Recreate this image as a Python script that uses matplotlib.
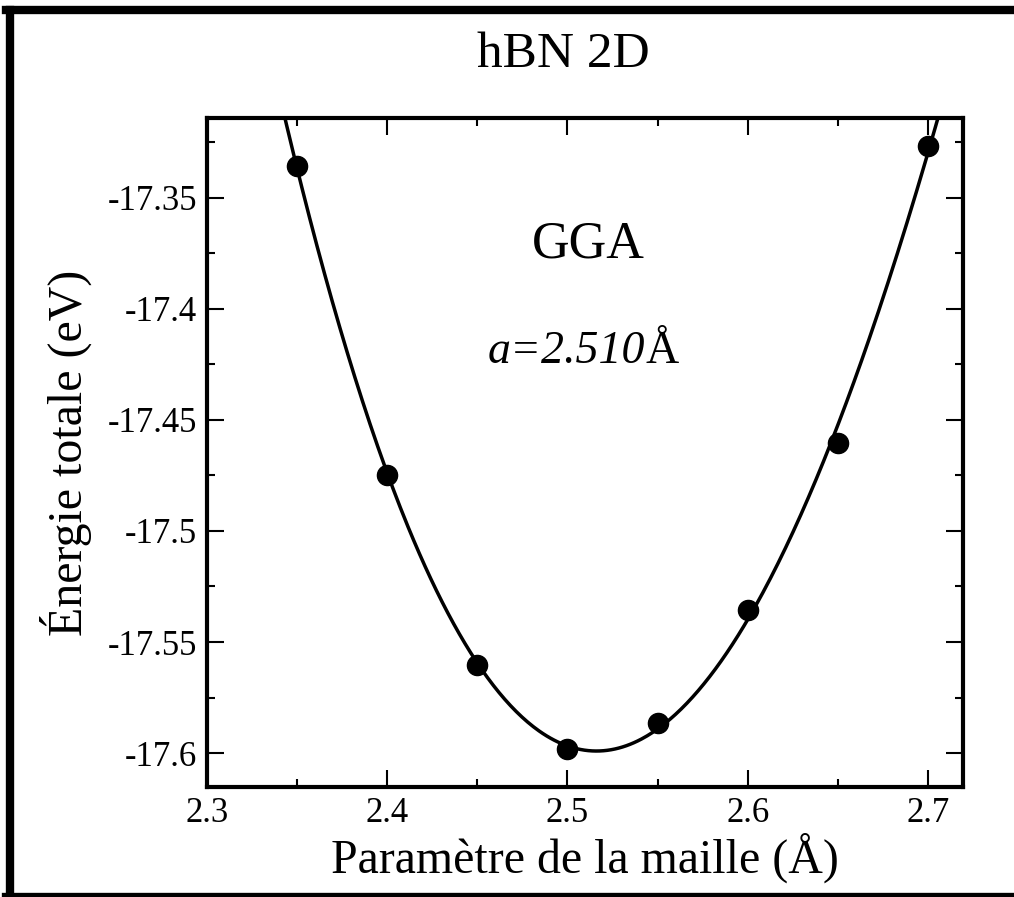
import numpy as np
import matplotlib
matplotlib.use("Agg")
import matplotlib.pyplot as plt
from matplotlib.lines import Line2D
from matplotlib.ticker import MultipleLocator, FuncFormatter

plt.rcParams["font.family"] = ["Liberation Serif", "DejaVu Serif"]
plt.rcParams["axes.unicode_minus"] = False

# Lattice parameter (Å) and total energy (eV)
lattice = [2.35, 2.40, 2.45, 2.50, 2.55, 2.60, 2.65, 2.70]
energy = [-17.3358, -17.4750, -17.5602, -17.5981, -17.5865, -17.5354, -17.4604, -17.3268]

title_text = "hBN 2D"
method_text = "GGA"
xlabel_text = "Paramètre de la maille (Å)"
ylabel_text = "Énergie totale (eV)"

W, H = 1014, 897
fig = plt.figure(figsize=(W / 100, H / 100), dpi=100)
fig.patch.set_facecolor("white")

def fx(px):
    return px / W

def fy(py):
    return 1 - py / H

ax = fig.add_axes([fx(207), fy(787), fx(963) - fx(207), fy(118) - fy(787)])

# Smooth fit through the computed energies
coef = np.polyfit(lattice, energy, 3)
xs = np.linspace(2.30, 2.72, 400)
ax.plot(xs, np.polyval(coef, xs), color="black", lw=2.5, zorder=2)
ax.plot(lattice, energy, "o", color="black", ms=14.5, zorder=3)

ax.set_xlim(2.30, 2.7195)
ax.set_ylim(-17.6153, -17.3140)

ax.xaxis.set_major_locator(MultipleLocator(0.1))
ax.xaxis.set_minor_locator(MultipleLocator(0.05))
ax.yaxis.set_major_locator(MultipleLocator(0.05))
ax.yaxis.set_minor_locator(MultipleLocator(0.025))

def fmt(v, pos):
    s = f"{v:.2f}".rstrip("0").rstrip(".")
    return s.replace("\u2212", "-")

ax.xaxis.set_major_formatter(FuncFormatter(fmt))
ax.yaxis.set_major_formatter(FuncFormatter(fmt))

ax.tick_params(which="both", direction="in", top=True, right=True, width=1.5, color="black")
ax.tick_params(which="major", length=12, labelsize=25)
ax.tick_params(axis="x", which="major", pad=7)
ax.tick_params(axis="y", which="major", pad=7)
ax.tick_params(which="minor", length=6)
for sp in ax.spines.values():
    sp.set_linewidth(3)

# Labels
fig.text(fx(585), fy(858), xlabel_text, ha="center", va="center", fontsize=34.5)
fig.text(fx(66), fy(453), ylabel_text, ha="center", va="center", fontsize=34.5, rotation=90)
fig.text(fx(563), fy(55), title_text, ha="center", va="center", fontsize=37)
fig.text(fx(588), fy(245), method_text, ha="center", va="center", fontsize=37.5)
fig.text(fx(645), fy(352), "a=2.510", ha="right", va="center", fontsize=33, style="italic")
fig.text(fx(645), fy(352), "Å", ha="left", va="center", fontsize=33)

# Outer frame
fig.add_artist(Line2D([fx(10), fx(10)], [fy(10), fy(900)], color="black", lw=6, transform=fig.transFigure))
fig.add_artist(Line2D([fx(6), fx(1020)], [fy(10), fy(10)], color="black", lw=6, transform=fig.transFigure))
fig.add_artist(Line2D([fx(6), fx(1020)], [fy(897), fy(897)], color="black", lw=6, transform=fig.transFigure))

fig.savefig("out.png", dpi=100, facecolor="white")
